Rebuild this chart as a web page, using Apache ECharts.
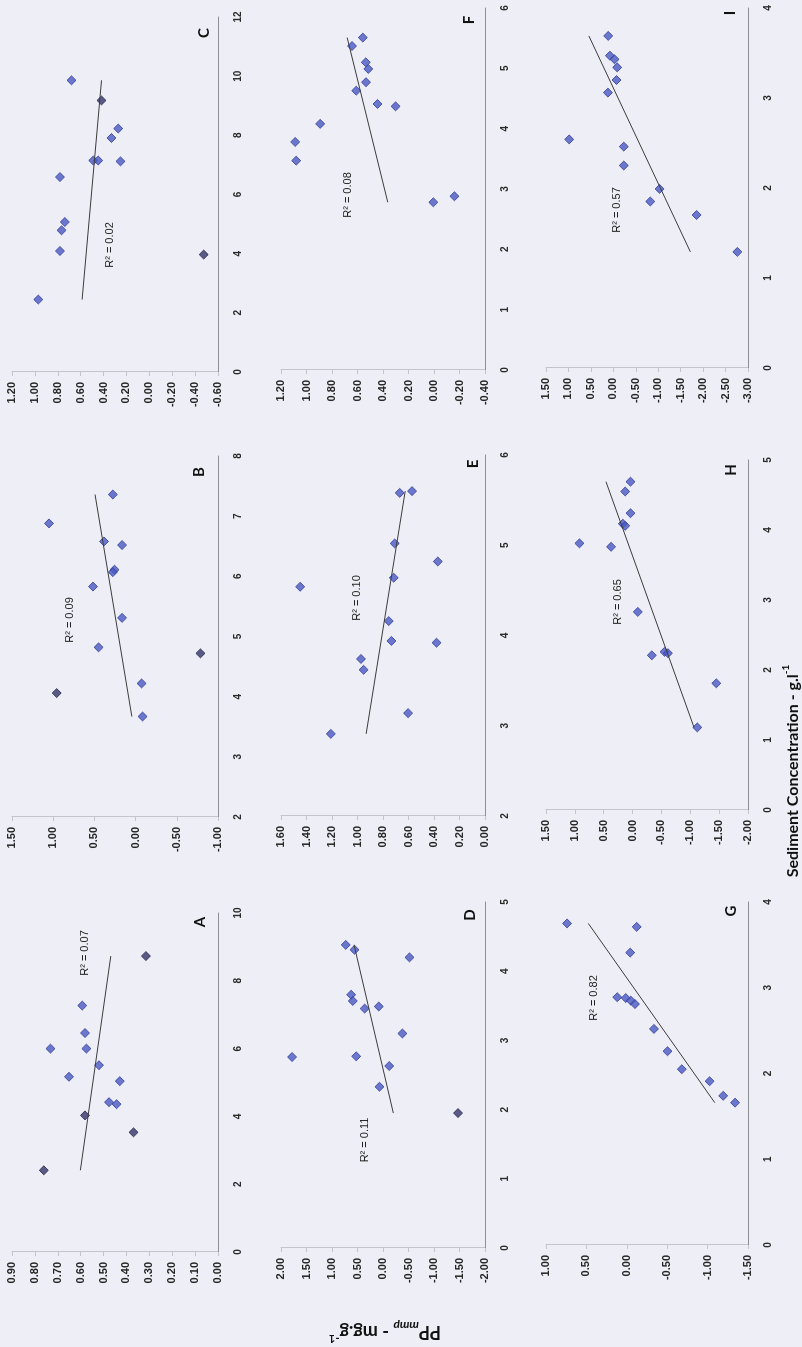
<!DOCTYPE html>
<html>
<head>
<meta charset="utf-8">
<script src="https://cdn.jsdelivr.net/npm/echarts@6/dist/echarts.min.js"></script>
<style>
  html, body { margin: 0; padding: 0; width: 802px; height: 1347px; overflow: hidden; background: #eeeef6; }
  /* the figure sits sideways on the page: laid out landscape, turned a quarter turn anticlockwise */
  #page { position: absolute; left: 0; top: 0; width: 1347px; height: 802px;
          transform-origin: 0 0; transform: translate(0, 1347px) rotate(-90deg); }
</style>
</head>
<body>
<div id="page"></div>
<script>
// ---- data: [sediment concentration g/l, PP_mmp mg/g] ----
const pointsA = [[7.27,0.593],[6.46,0.581],[6.00,0.575],[6.00,0.732],[5.51,0.520],[5.17,0.651],[5.04,0.429],[4.42,0.476],[4.36,0.443]];
const pointsA_dark = [[8.73,0.315],[4.03,0.581],[3.53,0.369],[2.41,0.761]];

const pointsB = [[7.36,0.276],[6.88,1.051],[6.58,0.384],[6.52,0.164],[6.11,0.256],[6.07,0.276],[5.83,0.517],[5.31,0.164],[4.82,0.449],[4.22,-0.073],[3.67,-0.085]];
const pointsB_dark = [[4.72,-0.787],[4.06,0.958]];

const pointsC = [[9.86,0.680],[7.91,0.331],[8.23,0.272],[7.15,0.490],[7.15,0.447],[7.12,0.252],[6.59,0.781],[5.07,0.738],[4.79,0.767],[4.09,0.781],[2.45,0.970]];
const pointsC_dark = [[9.18,0.418],[3.97,-0.475]];

const pointsD = [[4.38,0.731],[4.31,0.559],[4.20,-0.519],[3.66,0.625],[3.57,0.592],[3.46,0.360],[3.49,0.083],[3.10,-0.380],[2.76,1.782],[2.77,0.526],[2.63,-0.122],[2.33,0.069]];
const pointsD_dark = [[1.95,-1.471]];

const pointsE = [[5.58,0.669],[5.60,0.572],[5.02,0.708],[4.82,0.370],[4.54,1.450],[4.64,0.716],[4.16,0.755],[3.94,0.734],[3.92,0.380],[3.74,0.973],[3.62,0.952],[3.14,0.603],[2.91,1.209]];
const pointsE_dark = [];

const pointsF = [[5.51,0.558],[5.37,0.643],[5.10,0.535],[4.99,0.515],[4.77,0.533],[4.63,0.610],[4.41,0.443],[4.37,0.301],[4.08,0.893],[3.78,1.089],[3.47,1.081],[2.78,0.005],[2.88,-0.160]];
const pointsF_dark = [];

const pointsG = [[3.75,0.739],[3.71,-0.122],[3.41,-0.042],[2.89,0.118],[2.88,0.013],[2.85,-0.050],[2.81,-0.101],[2.52,-0.336],[2.26,-0.504],[2.05,-0.681],[1.91,-1.025],[1.74,-1.193],[1.66,-1.340]];
const pointsG_dark = [];

const pointsH = [[4.69,0.036],[4.55,0.128],[4.24,0.036],[4.09,0.169],[4.06,0.128],[3.81,0.921],[3.76,0.372],[2.83,-0.091],[2.21,-0.334],[2.26,-0.554],[2.24,-0.612],[1.81,-1.451],[1.18,-1.122]];
const pointsH_dark = [];

const pointsI = [[3.69,0.114],[3.47,0.077],[3.43,-0.027],[3.34,-0.086],[3.20,-0.071],[3.06,0.121],[2.54,0.984],[2.46,-0.233],[2.25,-0.233],[1.99,-1.030],[1.85,-0.823],[1.70,-1.855],[1.29,-2.763]];
const pointsI_dark = [];

// ---- panel labels, axis ranges and tick steps ----
const panelNames = ['A','B','C','D','E','F','G','H','I'];
const r2Labels   = ['R\u00b2 = 0.07','R\u00b2 = 0.09','R\u00b2 = 0.02','R\u00b2 = 0.11','R\u00b2 = 0.10','R\u00b2 = 0.08','R\u00b2 = 0.82','R\u00b2 = 0.65','R\u00b2 = 0.57'];
const ppMin   = [0,   -1.0, -0.6, -2.0, 0,   -0.4, -1.5, -2.0, -3.0];
const ppMax   = [0.9,  1.5,  1.2,  2.0, 1.6,  1.2,  1.0,  1.5,  1.5];
const ppStep  = [0.1,  0.5,  0.2,  0.5, 0.2,  0.2,  0.5,  0.5,  0.5];
const sedMin  = [0, 2, 0, 0, 2, 0, 0, 0, 0];
const sedMax  = [10, 8, 12, 5, 6, 6, 4, 5, 4];
const sedStep = [2, 1, 2, 1, 1, 1, 1, 1, 1];
const xTitle = 'Sediment Concentration - g.l';
const yTitleMain = 'PP', yTitleSub = 'mmp', yTitleUnit = ' - mg.g';

const mainSets = [pointsA,pointsB,pointsC,pointsD,pointsE,pointsF,pointsG,pointsH,pointsI];
const darkSets = [pointsA_dark,pointsB_dark,pointsC_dark,pointsD_dark,pointsE_dark,pointsF_dark,pointsG_dark,pointsH_dark,pointsI_dark];

// ---- layout (landscape page coordinates) ----
const plotBoxes = [
  [95, 12, 339, 206], [530, 12, 361, 206], [975, 12, 355, 206],
  [99, 281, 346, 204], [531, 281, 361, 204], [977, 281, 362, 204],
  [102, 546, 343, 202], [537, 546, 350, 202], [979, 546, 360, 202]
];
const letterPos = [[425,200],[875,199],[1314,204],[432,470],[883,473],[1327,469],[436,731],[877,731],[1334,730]];
const r2Pos = [[394,85],[727,70],[1102,110],[207,365],[749,357],[1152,348],[349,594],[745,618],[1137,617]];

// least-squares trend line over the sampled range
function trend(pts) {
  const n = pts.length;
  let sx = 0, sy = 0;
  pts.forEach(p => { sx += p[0]; sy += p[1]; });
  const mx = sx / n, my = sy / n;
  let sxy = 0, sxx = 0;
  pts.forEach(p => { sxy += (p[0] - mx) * (p[1] - my); sxx += (p[0] - mx) * (p[0] - mx); });
  const b = sxy / sxx, a = my - b * mx;
  const xs = pts.map(p => p[0]);
  const x0 = Math.min.apply(null, xs), x1 = Math.max.apply(null, xs);
  return [[x0, a + b * x0], [x1, a + b * x1]];
}

const tickFont = 'Liberation Sans, Arial, sans-serif';
const grids = [], xAxes = [], yAxes = [], series = [], graphics = [];

panelNames.forEach((name, i) => {
  const b = plotBoxes[i];
  grids.push({ left: b[0], top: b[1], width: b[2], height: b[3], containLabel: false, outerBoundsMode: 'none' });
  xAxes.push({
    gridIndex: i, type: 'value', min: sedMin[i], max: sedMax[i], interval: sedStep[i],
    axisLine: { show: true, onZero: false, lineStyle: { color: '#8e8e94', width: 1 } },
    axisTick: { show: false }, splitLine: { show: false },
    axisLabel: { margin: 15, fontSize: 10, fontWeight: 'bold', color: '#2a2a2a', fontFamily: tickFont,
                 formatter: v => String(Math.round(v)) }
  });
  yAxes.push({
    gridIndex: i, type: 'value', min: ppMin[i], max: ppMax[i], interval: ppStep[i],
    axisLine: { show: true, onZero: false, lineStyle: { color: '#c4c4ca', width: 1 } },
    axisTick: { show: true, inside: false, length: 4, lineStyle: { color: '#c4c4ca' } },
    splitLine: { show: false },
    axisLabel: { margin: 10, fontSize: 11, fontWeight: 'bold', color: '#262626', fontFamily: tickFont,
                 formatter: v => (Math.abs(v) < 1e-9 ? 0 : v).toFixed(2) }
  });
  series.push({
    type: 'scatter', xAxisIndex: i, yAxisIndex: i, data: mainSets[i],
    symbol: 'diamond', symbolSize: 9,
    itemStyle: { color: '#4a59c2', borderColor: '#303c98', borderWidth: 1 },
    z: 3
  });
  if (darkSets[i].length) {
    series.push({
      type: 'scatter', xAxisIndex: i, yAxisIndex: i, data: darkSets[i],
      symbol: 'diamond', symbolSize: 9,
      itemStyle: { color: '#35356a', borderColor: '#23234a', borderWidth: 1 },
      z: 3
    });
  }
  series.push({
    type: 'line', xAxisIndex: i, yAxisIndex: i, data: trend(mainSets[i].concat(darkSets[i])),
    symbol: 'none', lineStyle: { color: '#3c3c3c', width: 1 }, z: 4, silent: true
  });
  graphics.push({
    type: 'text', x: letterPos[i][0], y: letterPos[i][1], z: 10,
    style: { text: name, font: 'bold 15px Lato, sans-serif', fill: '#111', textAlign: 'center', textVerticalAlign: 'middle' }
  });
  graphics.push({
    type: 'text', x: r2Pos[i][0], y: r2Pos[i][1], z: 10,
    style: { text: r2Labels[i], font: '11px Liberation Sans, Arial, sans-serif', fill: '#222', textAlign: 'center', textVerticalAlign: 'middle' }
  });
});

// axis titles shared by the whole figure
graphics.push({
  type: 'text', x: 576, y: 791, z: 10,
  style: {
    text: '{t|' + xTitle + '}{s|-1}',
    textAlign: 'center', textVerticalAlign: 'middle',
    rich: {
      t: { font: 'bold 16px Lato, sans-serif', fill: '#111', lineHeight: 20, verticalAlign: 'bottom' },
      s: { font: 'bold 10px Lato, sans-serif', fill: '#111', lineHeight: 20, verticalAlign: 'top' }
    }
  }
});
graphics.push({
  type: 'text', x: 15, y: 385, rotation: Math.PI / 2, z: 10,
  style: {
    text: '{p|' + yTitleMain + '}{b|' + yTitleSub + '}{p|' + yTitleUnit + '}{s|-1}',
    textAlign: 'center', textVerticalAlign: 'middle',
    rich: {
      p: { font: 'bold 18px Lato, sans-serif', fill: '#111', lineHeight: 24, verticalAlign: 'middle' },
      b: { font: 'bold italic 12px Lato, sans-serif', fill: '#111', lineHeight: 24, verticalAlign: 'bottom' },
      s: { font: 'bold 11px Lato, sans-serif', fill: '#111', lineHeight: 24, verticalAlign: 'top' }
    }
  }
});

const chart = echarts.init(document.getElementById('page'), null, { renderer: 'canvas', width: 1347, height: 802 });
chart.setOption({
  backgroundColor: '#eeeef6',
  animation: false,
  grid: grids, xAxis: xAxes, yAxis: yAxes, series: series,
  graphic: graphics
});
</script>
</body>
</html>
